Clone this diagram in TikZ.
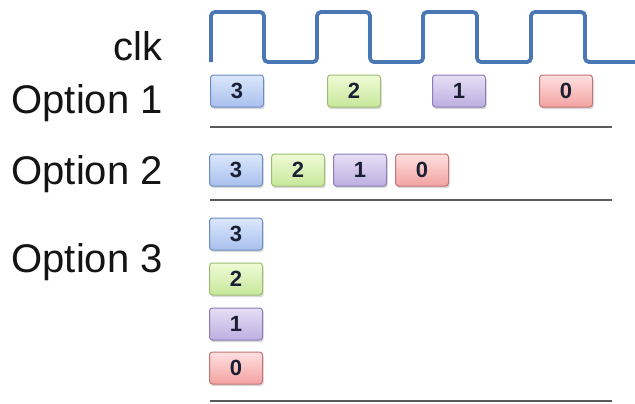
\documentclass[tikz,border=0pt]{standalone}
\usepackage{fontspec}
\setmainfont{Liberation Sans}
\usetikzlibrary{shadows}
\definecolor{clkblue}{HTML}{4A78B4}
\definecolor{rulegray}{HTML}{5A5A5A}
\definecolor{digitink}{HTML}{1A1F33}
\definecolor{bTop}{HTML}{DCE7FB}\definecolor{bBot}{HTML}{A8C0EE}\definecolor{bEdge}{HTML}{6E8CC2}
\definecolor{gTop}{HTML}{F0FBD6}\definecolor{gBot}{HTML}{C6E79A}\definecolor{gEdge}{HTML}{9DBE70}
\definecolor{pTop}{HTML}{E6DFF5}\definecolor{pBot}{HTML}{BDAEE0}\definecolor{pEdge}{HTML}{8C7DB8}
\definecolor{rTop}{HTML}{FFE0E0}\definecolor{rBot}{HTML}{F3A2A2}\definecolor{rEdge}{HTML}{C47474}
\tikzset{
  rowlabel/.style={anchor=base east, inner sep=0pt, text=black!92,
    font=\fontsize{40bp}{48bp}\selectfont},
  slot/.style={rounded corners=3bp, minimum width=53bp, minimum height=32bp,
    inner sep=0pt, line width=1bp, text=digitink,
    font=\fontsize{22bp}{24bp}\selectfont\bfseries,
    drop shadow={opacity=0.3, shadow xshift=1.2bp, shadow yshift=-2.2bp}},
  slotblue/.style={slot, draw=bEdge, top color=bTop, bottom color=bBot},
  slotgreen/.style={slot, draw=gEdge, top color=gTop, bottom color=gBot},
  slotpurple/.style={slot, draw=pEdge, top color=pTop, bottom color=pBot},
  slotred/.style={slot, draw=rEdge, top color=rTop, bottom color=rBot},
  divider/.style={draw=rulegray, line width=2bp},
  clockline/.style={draw=clkblue, line width=3.8bp, rounded corners=4bp}
}
\begin{document}
\begin{tikzpicture}[x=1bp, y=-1bp]
  \useasboundingbox (0,0) rectangle (635,403);
  \fill[white] (0,0) rectangle (635,403);

  % row labels
  \node[rowlabel] (lclk) at (163,60) {clk};
  \node[rowlabel] (lopt1) at (163,113) {Option 1};
  \node[rowlabel] (lopt2) at (163,184) {Option 2};
  \node[rowlabel] (lopt3) at (163,272) {Option 3};

  % clock waveform
  \draw[clockline] (211,62) -- (211,12) -- (264,12) -- (264,62)
    -- (317,62) -- (317,12) -- (370,12) -- (370,62)
    -- (423,62) -- (423,12) -- (477,12) -- (477,62)
    -- (531,62) -- (531,12) -- (585,12) -- (585,62) -- (640,62);

  % option 1: one item per clock cycle
  \node[slotblue]   (a3) at (237,91) {3};
  \node[slotgreen]  (a2) at (354,91) {2};
  \node[slotpurple] (a1) at (459,91) {1};
  \node[slotred]    (a0) at (566,91) {0};
  \coordinate (d1a) at (210,127); \coordinate (d1b) at (612,127);
  \draw[divider] (d1a) -- (d1b);

  % option 2: items side by side
  \node[slotblue]   (b3) at (236,170) {3};
  \node[slotgreen]  (b2) at (298,170) {2};
  \node[slotpurple] (b1) at (360,170) {1};
  \node[slotred]    (b0) at (422,170) {0};
  \coordinate (d2a) at (210,200); \coordinate (d2b) at (612,200);
  \draw[divider] (d2a) -- (d2b);

  % option 3: items stacked
  \node[slotblue]   (c3) at (236,234) {3};
  \node[slotgreen]  (c2) at (236,279) {2};
  \node[slotpurple] (c1) at (236,324) {1};
  \node[slotred]    (c0) at (236,368) {0};
  \coordinate (d3a) at (210,401); \coordinate (d3b) at (612,401);
  \draw[divider] (d3a) -- (d3b);
\end{tikzpicture}
\end{document}
